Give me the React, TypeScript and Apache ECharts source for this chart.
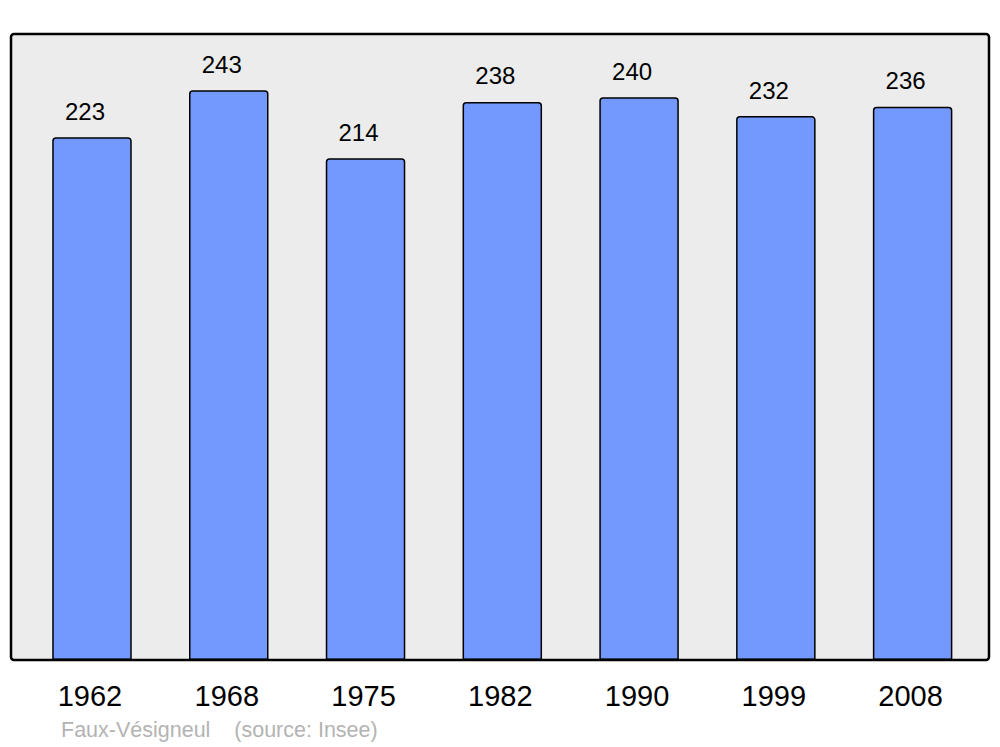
import React, { useEffect, useRef } from "react";
import * as echarts from "echarts";

const years = ["1962", "1968", "1975", "1982", "1990", "1999", "2008"];
const population = [223, 243, 214, 238, 240, 232, 236];
const footer = "Faux-Vésigneul    (source: Insee)";

export default function App() {
  const ref = useRef<HTMLDivElement>(null);
  useEffect(() => {
    const chart = echarts.init(ref.current!, null, { renderer: "svg" });
    chart.setOption({
      animation: false,
      backgroundColor: "#ffffff",
      textStyle: { fontFamily: "Liberation Sans, Arial, sans-serif" },
      grid: { left: 23.6, right: 19, top: 34, bottom: 87, containLabel: false },
      xAxis: {
        type: "category",
        data: years,
        axisLine: { show: false },
        axisTick: { show: false },
        axisLabel: {
          color: "#000",
          fontSize: 29,
          margin: 21,
          padding: [0, 4, 0, 0],
          fontFamily: "Liberation Sans, Arial, sans-serif",
        },
      },
      yAxis: {
        type: "value",
        min: 0,
        max: 267,
        show: false,
        splitLine: { show: false },
      },
      graphic: [
        {
          type: "rect",
          z: -10,
          silent: true,
          shape: { x: 11, y: 34, width: 978, height: 626, r: 3 },
          style: { fill: "#ececec", stroke: "none" },
        },
        {
          type: "rect",
          z: 100,
          silent: true,
          shape: { x: 11, y: 34, width: 978, height: 626, r: 3 },
          style: { fill: "none", stroke: "#000", lineWidth: 2.5 },
        },
        {
          type: "text",
          left: 61,
          top: 719,
          silent: true,
          style: {
            text: footer,
            fill: "#b3b3b3",
            fontSize: 21.5,
            fontFamily: "Liberation Sans, Arial, sans-serif",
          },
        },
      ],
      series: [
        {
          type: "bar",
          data: population,
          barWidth: 79.5,
          itemStyle: {
            color: "#7399ff",
            borderColor: "#000",
            borderWidth: 1.5,
            borderRadius: [3, 3, 0, 0],
          },
          label: {
            show: true,
            position: "top",
            distance: 14,
            offset: [-7, 0],
            color: "#000",
            fontSize: 24,
            fontFamily: "Liberation Sans, Arial, sans-serif",
          },
        },
      ],
    });
    return () => chart.dispose();
  }, []);
  return (
    <div
      ref={ref}
      style={{ position: "fixed", left: 0, top: 0, width: 1000, height: 747 }}
    />
  );
}
